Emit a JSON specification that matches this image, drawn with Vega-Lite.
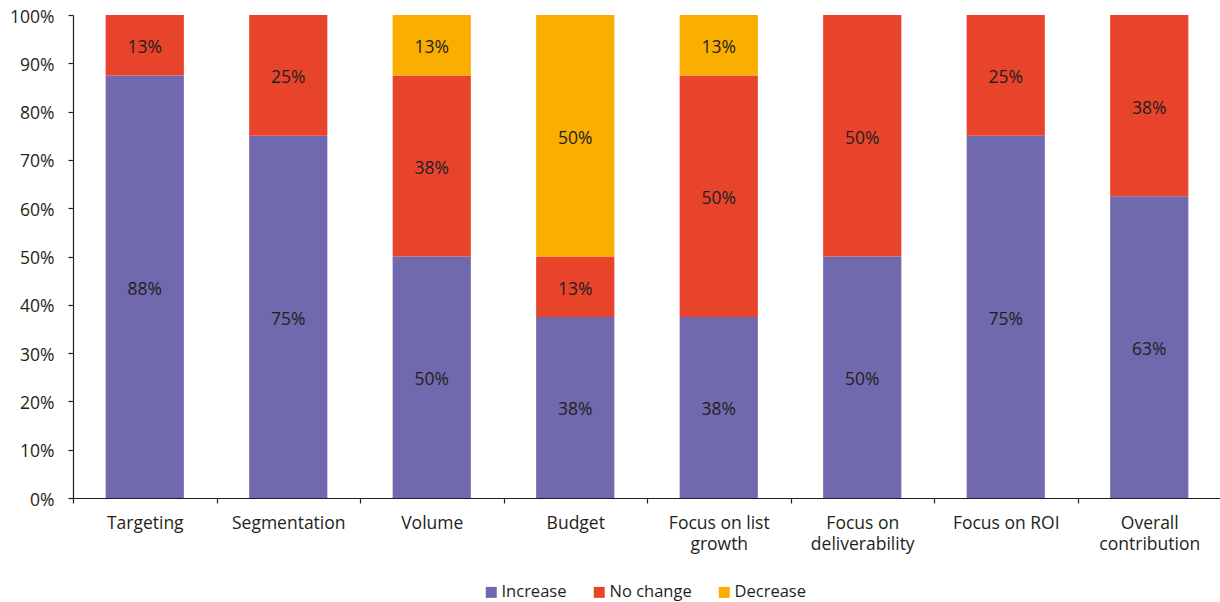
{
  "$schema": "https://vega.github.io/schema/vega-lite/v6.json",
  "autosize": {"type": "none"},
  "padding": {"left": 73, "top": 15, "right": 0, "bottom": 104},
  "width": 1148,
  "height": 483,
  "background": "white",
  "data": {
    "values": [
      {"category": "Targeting", "status": "Increase", "value": 0.875},
      {"category": "Targeting", "status": "No change", "value": 0.125},
      {"category": "Segmentation", "status": "Increase", "value": 0.75},
      {"category": "Segmentation", "status": "No change", "value": 0.25},
      {"category": "Volume", "status": "Increase", "value": 0.5},
      {"category": "Volume", "status": "No change", "value": 0.375},
      {"category": "Volume", "status": "Decrease", "value": 0.125},
      {"category": "Budget", "status": "Increase", "value": 0.375},
      {"category": "Budget", "status": "No change", "value": 0.125},
      {"category": "Budget", "status": "Decrease", "value": 0.5},
      {"category": "Focus on list growth", "status": "Increase", "value": 0.375},
      {"category": "Focus on list growth", "status": "No change", "value": 0.5},
      {"category": "Focus on list growth", "status": "Decrease", "value": 0.125},
      {"category": "Focus on deliverability", "status": "Increase", "value": 0.5},
      {"category": "Focus on deliverability", "status": "No change", "value": 0.5},
      {"category": "Focus on ROI", "status": "Increase", "value": 0.75},
      {"category": "Focus on ROI", "status": "No change", "value": 0.25},
      {"category": "Overall contribution", "status": "Increase", "value": 0.625},
      {"category": "Overall contribution", "status": "No change", "value": 0.375}
    ]
  },
  "transform": [
    {"calculate": "indexof(['Increase','No change','Decrease'], datum.status)", "as": "ord"},
    {"stack": "value", "groupby": ["category"], "sort": [{"field": "ord", "order": "ascending"}], "as": ["v0", "v1"]},
    {"calculate": "(datum.v0 + datum.v1) / 2", "as": "mid"}
  ],
  "encoding": {
    "x": {
      "field": "category",
      "type": "nominal",
      "sort": null,
      "scale": {"paddingInner": 0, "paddingOuter": 0},
      "axis": {
        "title": null,
        "labelAngle": 0,
        "tickBand": "extent",
        "tickSize": 5,
        "labelPadding": 11,
        "labelLineHeight": 21,
        "labelExpr": "datum.label == 'Focus on list growth' ? ['Focus on list', 'growth'] : datum.label == 'Focus on deliverability' ? ['Focus on', 'deliverability'] : datum.label == 'Overall contribution' ? ['Overall', 'contribution'] : datum.label"
      }
    }
  },
  "layer": [
    {
      "mark": {"type": "bar", "width": {"band": 0.545}},
      "encoding": {
        "y": {
          "field": "v0",
          "type": "quantitative",
          "scale": {"domain": [0, 1], "nice": false},
          "axis": {
            "title": null,
            "format": ".0%",
            "values": [0, 0.1, 0.2, 0.3, 0.4, 0.5, 0.6, 0.7, 0.8, 0.9, 1],
            "grid": false,
            "tickSize": 5,
            "labelPadding": 14,
            "labelOffset": 2
          }
        },
        "y2": {"field": "v1"},
        "color": {
          "field": "status",
          "type": "nominal",
          "scale": {"domain": ["Increase", "No change", "Decrease"], "range": ["#7069AD", "#E8442C", "#F9AE00"]},
          "legend": {
            "title": null,
            "orient": "none",
            "direction": "horizontal",
            "legendX": 410,
            "legendY": 569,
            "symbolType": "square",
            "symbolSize": 121,
            "symbolStrokeWidth": 0,
            "symbolOpacity": 1,
            "labelOffset": 2,
            "columnPadding": 24,
            "labelFontSize": 16.5,
            "padding": 0
          }
        }
      }
    },
    {
      "mark": {"type": "text", "fontSize": 17.5, "font": "Open Sans", "color": "#231F20", "dy": 3},
      "encoding": {
        "y": {"field": "mid", "type": "quantitative"},
        "text": {"field": "value", "type": "quantitative", "format": ".0%"}
      }
    }
  ],
  "config": {
    "view": {"stroke": null},
    "font": "Open Sans",
    "axis": {
      "labelFont": "Open Sans",
      "labelFontSize": 17.5,
      "labelColor": "#231F20",
      "domainColor": "#231F20",
      "tickColor": "#231F20",
      "domainWidth": 1.2,
      "tickWidth": 1.2
    },
    "legend": {
      "labelFont": "Open Sans",
      "labelColor": "#231F20"
    }
  }
}
